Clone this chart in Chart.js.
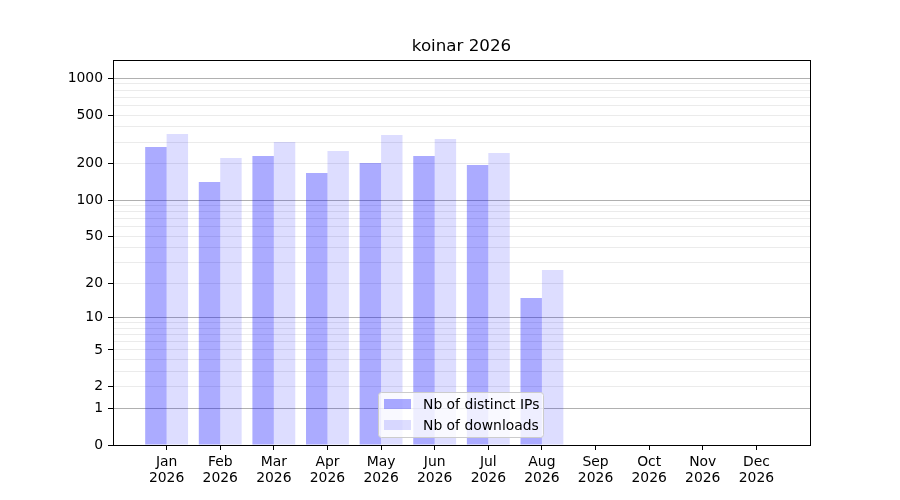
<!DOCTYPE html>
<html>
<head>
<meta charset="utf-8">
<script src="https://cdn.jsdelivr.net/npm/chart.js@4/dist/chart.umd.min.js"></script>
<style>
  html, body { margin: 0; padding: 0; background: #fff; }
  #wrap { width: 900px; height: 500px; position: relative; }
</style>
</head>
<body>
<div id="wrap"><canvas id="c"></canvas></div>
<script>
const title = 'koinar 2026';
const months = ['Jan','Feb','Mar','Apr','May','Jun','Jul','Aug','Sep','Oct','Nov','Dec'];
const year = '2026';
const distinctIPs = [274, 141, 231, 167, 202, 231, 195, 15];
const downloads = [350, 222, 301, 254, 343, 318, 244, 26];
const yLabelTicks = [0, 1, 2, 5, 10, 20, 50, 100, 200, 500, 1000];
const yMajorGrid = [1, 10, 100, 1000];
const yMinorGrid = [2,3,4,5,6,7,8,9,20,30,40,50,60,70,80,90,200,300,400,500,600,700,800,900];
const yMax = 1414;
const seriesNames = ['Nb of distinct IPs', 'Nb of downloads'];

const FONT = "'DejaVu Sans', sans-serif";
const f = v => Math.log10(1 + v);

class Log1pScale extends Chart.LinearScale {
  buildTicks() {
    const all = [0].concat(yMajorGrid, yMinorGrid).sort((a, b) => a - b);
    return all.map(v => ({ value: v, major: yMajorGrid.includes(v) }));
  }
  configure() {
    super.configure();
    this._t0 = f(this.min);
    this._t1 = f(this.max);
  }
  getPixelForValue(v) {
    return this.getPixelForDecimal((f(v) - this._t0) / (this._t1 - this._t0));
  }
  getValueForPixel(p) {
    const d = this.getDecimalForPixel(p);
    return Math.pow(10, this._t0 + d * (this._t1 - this._t0)) - 1;
  }
}
Log1pScale.id = 'log1p';
Log1pScale.defaults = Chart.LinearScale.defaults;
Chart.register(Log1pScale);

const colIPs = 'rgba(0,0,255,0.33)';
const colDl = 'rgba(0,0,255,0.135)';

const framePlugin = {
  id: 'frame',
  afterDraw(chart) {
    const { ctx, chartArea: a } = chart;
    ctx.save();
    ctx.strokeStyle = '#000';
    ctx.lineWidth = 1;
    ctx.strokeRect(Math.round(a.left) + 0.5, Math.round(a.top) + 0.5, Math.round(a.right - a.left), Math.round(a.bottom - a.top));
    // legend
    const lx = 378.5, ly = 392.5, lw = 165, lh = 45;
    ctx.fillStyle = 'rgba(255,255,255,0.8)';
    ctx.strokeStyle = '#cccccc';
    ctx.beginPath();
    ctx.roundRect(lx, ly, lw, lh, 3);
    ctx.fill();
    ctx.stroke();
    const cols = [colIPs, colDl];
    const ys = [404, 425];
    ctx.font = '13.9px ' + FONT;
    ctx.textBaseline = 'middle';
    ctx.textAlign = 'left';
    for (let i = 0; i < 2; i++) {
      ctx.fillStyle = cols[i];
      ctx.fillRect(384, ys[i] - 5, 27, 10);
      ctx.fillStyle = '#000';
      ctx.fillText(seriesNames[i], 423, ys[i] + 1);
    }
    ctx.restore();
  }
};

new Chart(document.getElementById('c'), {
  type: 'bar',
  data: {
    datasets: [
      { label: seriesNames[0], data: distinctIPs.map((v, i) => ({ x: i, y: v })), backgroundColor: colIPs, borderWidth: 0 },
      { label: seriesNames[1], data: downloads.map((v, i) => ({ x: i, y: v })), backgroundColor: colDl, borderWidth: 0 }
    ]
  },
  options: {
    responsive: true,
    maintainAspectRatio: false,
    animation: false,
    devicePixelRatio: 1,
    datasets: { bar: { categoryPercentage: 0.8, barPercentage: 1.0 } },
    layout: { padding: { left: 0, right: 90, top: 0, bottom: 0 } },
    plugins: {
      legend: { display: false },
      tooltip: { enabled: false },
      title: {
        display: true,
        fullSize: false,
        text: title,
        color: '#000',
        font: { family: FONT, size: 16.7, weight: 'normal' },
        padding: { top: 37, bottom: 3 }
      }
    },
    scales: {
      x: {
        type: 'linear',
        min: -1,
        max: 12,
        offset: false,
        afterBuildTicks: s => { s.ticks = months.map((m, i) => ({ value: i })); },
        afterFit: s => { s.height = 55; },
        ticks: {
          autoSkip: false,
          maxRotation: 0,
          color: '#000',
          padding: 5,
          font: { family: FONT, size: 13.9, lineHeight: 1.13 },
          callback: v => [months[v], year]
        },
        grid: { display: true, offset: false, drawOnChartArea: false, drawTicks: true, tickLength: 5, tickColor: '#000', tickWidth: 1 },
        border: { display: true, color: '#000', width: 1 }
      },
      y: {
        type: 'log1p',
        min: 0,
        max: yMax,
        afterFit: s => { s.width = 113; },
        ticks: {
          autoSkip: false,
          color: '#000',
          padding: 5,
          font: { family: FONT, size: 13.9 },
          callback: v => yLabelTicks.includes(v) ? String(v) : ''
        },
        grid: {
          color: c => yMajorGrid.includes(c.tick.value) ? '#b0b0b0' : (c.tick.value === 0 ? 'rgba(0,0,0,0)' : '#ebebeb'),
          lineWidth: 1,
          tickLength: 5,
          tickColor: c => yLabelTicks.includes(c.tick.value) ? '#000' : 'rgba(0,0,0,0)'
        },
        border: { display: true, color: '#000', width: 1 }
      }
    }
  },
  plugins: [framePlugin]
});
</script>
</body>
</html>
